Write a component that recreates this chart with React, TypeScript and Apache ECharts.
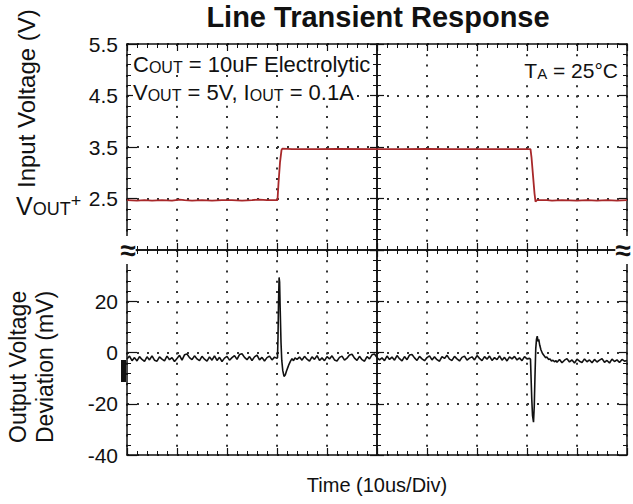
import React, { useEffect, useRef } from "react";
import * as echarts from "echarts";

// ---------- axis scales ----------
const TIME_MIN = 0;
const TIME_MAX = 100; // us, 10 us / div
const TIME_DIV = 10;
const IN_MIN = 1.5;
const IN_MAX = 5.5;
const IN_DIV = 1;
const OUT_MIN = -40;
const OUT_MAX = 40;
const OUT_DIV = 20;

// ---------- input voltage trace (us, V) ----------
const inputVoltage: [number, number][] = [
  [0, 2.47], [2, 2.46], [3.5, 2.47], [5, 2.46], [7, 2.47], [9, 2.46], [10.5, 2.48],
  [11.5, 2.47], [13, 2.46], [15, 2.47], [17, 2.46], [19, 2.47], [21, 2.47], [23, 2.46],
  [25, 2.47], [26.5, 2.48], [28, 2.47], [30.1, 2.47], [30.3, 2.8], [30.6, 3.2],
  [30.9, 3.44], [31.1, 3.47], [33, 3.46], [38, 3.46], [42, 3.465], [50, 3.46],
  [55, 3.46], [60, 3.465], [65, 3.46], [70, 3.46], [75, 3.46], [80.7, 3.46],
  [80.9, 3.3], [81.2, 2.95], [81.5, 2.6], [81.7, 2.44], [82.0, 2.47], [84, 2.47],
  [85, 2.46], [87, 2.47], [90, 2.46], [92, 2.47], [94, 2.46], [96, 2.47], [98, 2.46],
  [100, 2.47],
];

// ---------- output deviation trace (mV) ----------
const NOISE_STEP = 0.5; // us between scope samples
const noiseAStart = 0;
const noiseA = [
  -2.5, -1.4, -3.2, -2.0, -3.3, -1.6, -2.7, -3.5, -1.7, -2.9,
  -1.3, -3.0, -3.4, -1.7, -2.6, -3.3, -1.4, -2.8, -2.0, -3.5,
  -2.3, -1.1, -3.0, -0.9, -0.6, -2.0, -2.8, -1.3, -2.5, -3.2,
  -1.5, -2.6, -3.4, -1.7, -3.0, -1.3, -3.1, -1.9, -3.5, -2.2,
  -1.5, -3.0, -2.0, -1.2, -2.7, -0.8, -0.5, -1.9, -2.8, -1.6,
  -3.1, -1.7, -1.0, -2.9, -1.9, -3.3, -2.0, -1.4, -2.9, -1.8,
  -2.3,
];
const spikeUp: [number, number][] = [
  [30.1, -2.0], [30.2, 6], [30.3, 19], [30.42, 29.3], [30.52, 27.5], [30.65, 16],
  [30.8, 4], [30.95, -3], [31.15, -7], [31.4, -9.3], [31.65, -8.8], [31.9, -7.2],
  [32.15, -5.9], [32.4, -4.6], [32.7, -3.4], [33.0, -2.4], [33.3, -3.2], [33.6, -2.1],
  [34.0, -2.7],
];
const noiseBStart = 34.5;
const noiseB = [
  -1.8, -3.0, -1.5, -2.6, -3.4, -1.7, -2.7, -1.2, -3.1, -2.1,
  -3.2, -1.6, -2.5, -1.3, -2.9, -3.3, -1.9, -1.4, -3.0, -2.2,
  -1.0, -0.7, -2.2, -3.1, -1.5, -2.8, -3.4, -1.6, -2.5, -0.9,
  -0.6, -2.0, -2.9, -2.1, -3.2, -1.4, -2.7, -1.8, -3.0, -1.2,
  -2.4, -3.3, -1.6, -2.8, -1.0, -0.8, -2.1, -3.1, -1.5, -2.5,
  -3.2, -2.0, -1.3, -2.9, -1.7, -2.8, -3.4, -1.6, -2.3, -1.1,
  -2.6, -3.1, -1.5, -2.5, -3.3, -1.9, -1.4, -3.0, -2.2, -1.7,
  -2.9, -1.2, -2.3, -3.2, -1.6, -2.6, -1.4, -3.1, -2.0, -2.8,
  -1.3, -3.0, -1.9, -3.3, -1.7, -2.5, -1.5, -2.9, -2.1, -3.2,
  -1.6, -2.5, -2.3,
];
const spikeDown: [number, number][] = [
  [80.7, -2.6], [80.8, -9], [80.95, -18], [81.1, -24.5], [81.3, -27.2], [81.45, -21],
  [81.6, -9], [81.75, 1.5], [81.9, 5.2], [82.05, 6.4], [82.2, 4.3], [82.35, 5.1],
  [82.55, 2.8], [82.8, 1.0], [83.1, -0.4], [83.4, -1.2], [83.7, -2.0], [84.0, -1.8],
  [84.3, -2.7], [84.6, -2.5], [84.9, -3.3], [85.2, -3.0], [85.5, -3.6], [85.8, -3.2],
];
const noiseCStart = 86;
const noiseC = [
  -3.8, -2.7, -4.0, -3.0, -2.4, -3.7, -2.9, -4.1, -2.6, -3.4,
  -3.9, -2.5, -3.6, -2.9, -4.0, -2.7, -3.7, -3.0, -2.4, -3.8,
  -3.1, -4.1, -2.6, -3.5, -2.9, -3.9, -2.7, -3.4, -3.1,
];

const outputDeviation: [number, number][] = [
  ...noiseA.map((v, i) => [noiseAStart + i * NOISE_STEP, v] as [number, number]),
  ...spikeUp,
  ...noiseB.map((v, i) => [noiseBStart + i * NOISE_STEP, v] as [number, number]),
  ...spikeDown,
  ...noiseC.map((v, i) => [noiseCStart + i * NOISE_STEP, v] as [number, number]),
];

// ---------- texts ----------
const TITLE = "Line Transient Response";
const X_NAME = "Time (10us/Div)";
const TOP_Y_NAME = "Input Voltage (V)";
const BOTTOM_Y_NAME_1 = "Output Voltage";
const BOTTOM_Y_NAME_2 = "Deviation (mV)";

// ---------- layout ----------
const LEFT = 127;
const WIDTH = 500;
const TOP = 44;
const MID = 250;
const BOTTOM = 455;
const FONT = '"Liberation Sans", Arial, Helvetica, sans-serif';
const INK = "#111";
const RED = "#a8282a";

function timeAxis(gridIndex: number, position: "top" | "bottom", major: number, dotPeriod: number | null, name?: string) {
  const ax: any = {
    type: "value",
    gridIndex,
    position,
    min: TIME_MIN,
    max: TIME_MAX,
    interval: TIME_DIV,
    axisLine: { show: true, onZero: false, lineStyle: { color: INK, width: 1.5 } },
    axisTick: { show: true, inside: true, length: major, lineStyle: { color: INK, width: 1.2 } },
    minorTick: { show: true, splitNumber: 5, length: 4, lineStyle: { color: INK, width: 1 } },
    axisLabel: { show: false },
    splitLine: dotPeriod
      ? { show: true, lineStyle: { color: "#333", width: 2, type: [2, dotPeriod - 2] } }
      : { show: false },
    minorSplitLine: { show: false },
  };
  if (name) {
    ax.name = name;
    ax.nameLocation = "middle";
    ax.nameGap = 20;
    ax.nameTextStyle = { fontSize: 20, color: INK, fontFamily: FONT };
  }
  return ax;
}

function valueAxis(
  gridIndex: number,
  position: "left" | "right",
  offset: number,
  min: number,
  max: number,
  interval: number,
  major: number,
  label: ((v: number) => string) | null,
  dotted: boolean
) {
  return {
    type: "value",
    gridIndex,
    position,
    offset,
    min,
    max,
    interval,
    axisLine: { show: true, onZero: false, lineStyle: { color: INK, width: 1.5 } },
    axisTick: { show: true, inside: true, length: major, lineStyle: { color: INK, width: 1.2 } },
    minorTick: { show: true, splitNumber: 5, length: 4, lineStyle: { color: INK, width: 1 } },
    axisLabel: label
      ? { show: true, fontSize: 21, color: INK, fontFamily: FONT, margin: 9, formatter: label }
      : { show: false },
    splitLine: dotted
      ? { show: true, lineStyle: { color: "#333", width: 2, type: [2, 8] } }
      : { show: false },
    minorSplitLine: { show: false },
  };
}

const inLabel = (v: number) => (Math.abs(v - IN_MIN) < 1e-6 ? "" : v.toFixed(1));
const outLabel = (v: number) => (v === OUT_MAX ? "" : String(v));
const CENTER_OFFSET = -WIDTH / 2;

const option: any = {
  animation: false,
  backgroundColor: "#fff",
  grid: [
    { left: LEFT, top: TOP, width: WIDTH, height: MID - TOP, show: false, containLabel: false, outerBoundsMode: "none" },
    { left: LEFT, top: MID, width: WIDTH, height: BOTTOM - MID, show: false, containLabel: false, outerBoundsMode: "none" },
  ],
  xAxis: [
    timeAxis(0, "bottom", 7, (MID - TOP) / 20),
    timeAxis(0, "top", 7, null),
    timeAxis(1, "top", 7, (BOTTOM - MID) / 20),
    timeAxis(1, "bottom", 7, null, X_NAME),
  ],
  yAxis: [
    valueAxis(0, "left", 0, IN_MIN, IN_MAX, IN_DIV, 10, inLabel, true),
    valueAxis(0, "right", 0, IN_MIN, IN_MAX, IN_DIV, 8, null, false),
    valueAxis(0, "left", CENTER_OFFSET, IN_MIN, IN_MAX, IN_DIV, 7, null, false),
    valueAxis(0, "right", CENTER_OFFSET, IN_MIN, IN_MAX, IN_DIV, 7, null, false),
    valueAxis(1, "left", 0, OUT_MIN, OUT_MAX, OUT_DIV, 10, outLabel, true),
    valueAxis(1, "right", 0, OUT_MIN, OUT_MAX, OUT_DIV, 8, null, false),
    valueAxis(1, "left", CENTER_OFFSET, OUT_MIN, OUT_MAX, OUT_DIV, 7, null, false),
    valueAxis(1, "right", CENTER_OFFSET, OUT_MIN, OUT_MAX, OUT_DIV, 7, null, false),
  ],
  series: [
    {
      name: "Input Voltage",
      type: "line",
      xAxisIndex: 0,
      yAxisIndex: 0,
      data: inputVoltage,
      symbol: "none",
      z: 5,
      lineStyle: { color: RED, width: 1.8 },
    },
    {
      name: "Output Voltage Deviation",
      type: "line",
      xAxisIndex: 2,
      yAxisIndex: 4,
      data: outputDeviation,
      symbol: "none",
      z: 5,
      lineStyle: { color: INK, width: 1.6 },
    },
  ],
  graphic: {
    elements: [
      {
        type: "text",
        x: 378,
        y: 17,
        style: { text: TITLE, font: `bold 29px ${FONT}`, fill: INK, align: "center", verticalAlign: "middle" },
      },
      {
        type: "text",
        x: 26,
        y: 188,
        rotation: Math.PI / 2,
        style: { text: TOP_Y_NAME, font: `24px ${FONT}`, fill: INK, align: "left", verticalAlign: "middle" },
      },
      {
        type: "text",
        x: 18,
        y: 443,
        rotation: Math.PI / 2,
        style: { text: BOTTOM_Y_NAME_1, font: `23px ${FONT}`, fill: INK, align: "left", verticalAlign: "middle" },
      },
      {
        type: "text",
        x: 45,
        y: 443,
        rotation: Math.PI / 2,
        style: { text: BOTTOM_Y_NAME_2, font: `23px ${FONT}`, fill: INK, align: "left", verticalAlign: "middle" },
      },
      {
        type: "text",
        x: 16,
        y: 205,
        style: {
          text: "{v|V}{s|OUT}{p|+}",
          align: "left",
          verticalAlign: "middle",
          fill: INK,
          rich: {
            v: { fontSize: 25, fontFamily: FONT, fill: INK, lineHeight: 26, verticalAlign: "bottom" },
            s: { fontSize: 18, fontFamily: FONT, fill: INK, lineHeight: 22, verticalAlign: "bottom" },
            p: { fontSize: 18, fontFamily: FONT, fill: INK, lineHeight: 20, verticalAlign: "top" },
          },
        },
      },
      {
        type: "text",
        x: 133,
        y: 63,
        z: 10,
        style: {
          text: "{b|C}{s|OUT}{b| = 10uF Electrolytic}",
          align: "left",
          verticalAlign: "middle",
          backgroundColor: "#fff",
          rich: {
            b: { fontSize: 22, fontFamily: FONT, fill: INK, lineHeight: 24, verticalAlign: "bottom" },
            s: { fontSize: 16, fontFamily: FONT, fill: INK, lineHeight: 18, verticalAlign: "bottom" },
          },
        },
      },
      {
        type: "text",
        x: 133,
        y: 91,
        z: 10,
        style: {
          text: "{b|V}{s|OUT}{b| = 5V, I}{s|OUT}{b| = 0.1A}",
          align: "left",
          verticalAlign: "middle",
          backgroundColor: "#fff",
          rich: {
            b: { fontSize: 22, fontFamily: FONT, fill: INK, lineHeight: 24, verticalAlign: "bottom" },
            s: { fontSize: 16, fontFamily: FONT, fill: INK, lineHeight: 18, verticalAlign: "bottom" },
          },
        },
      },
      {
        type: "text",
        x: 618,
        y: 69,
        z: 10,
        style: {
          text: "{b|T}{s|A}{b| = 25°C}",
          align: "right",
          verticalAlign: "middle",
          backgroundColor: "#fff",
          rich: {
            b: { fontSize: 21, fontFamily: FONT, fill: INK, lineHeight: 24, verticalAlign: "bottom" },
            s: { fontSize: 15, fontFamily: FONT, fill: INK, lineHeight: 18, verticalAlign: "bottom" },
          },
        },
      },
      {
        type: "text",
        x: LEFT + 1,
        y: MID,
        z: 20,
        style: { text: "≈", font: `bold 28px ${FONT}`, fill: INK, align: "center", verticalAlign: "middle", backgroundColor: "#fff" },
      },
      {
        type: "text",
        x: LEFT + WIDTH - 4,
        y: MID,
        z: 20,
        style: { text: "≈", font: `bold 28px ${FONT}`, fill: INK, align: "center", verticalAlign: "middle", backgroundColor: "#fff" },
      },
      {
        type: "rect",
        z: 20,
        shape: { x: 121, y: 360, width: 5, height: 22 },
        style: { fill: INK },
      },
    ],
  },
};

export default function App() {
  const ref = useRef<HTMLDivElement>(null);
  useEffect(() => {
    if (!ref.current) return;
    const chart = echarts.init(ref.current, undefined, { renderer: "svg" });
    chart.setOption(option);
    return () => chart.dispose();
  }, []);
  return (
    <div
      ref={ref}
      style={{ position: "fixed", left: 0, top: 0, width: 633, height: 504, background: "#fff" }}
    />
  );
}
